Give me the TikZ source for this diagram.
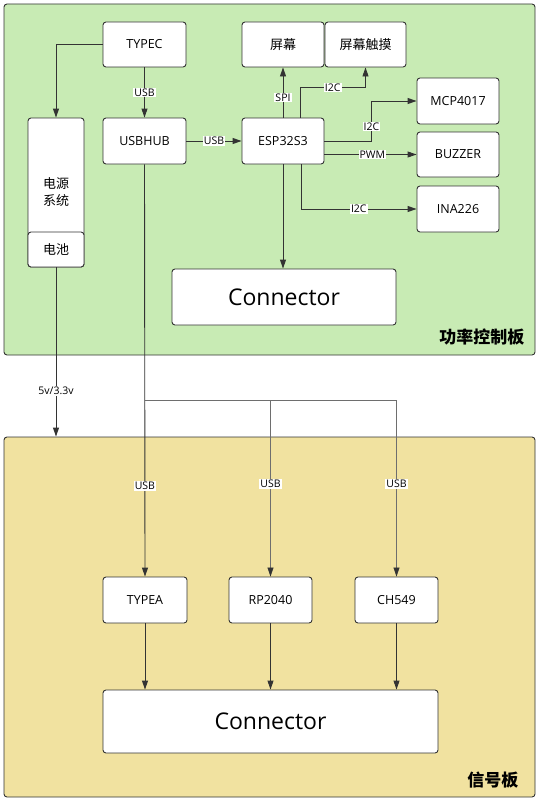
\documentclass[tikz,border=0pt]{standalone}
\usepackage{fontspec}
\setmainfont{Open Sans}
\newfontfamily\cjk{Noto Sans CJK SC}
\usetikzlibrary{arrows.meta}
\definecolor{greenfill}{RGB}{200,235,180}
\definecolor{yellowfill}{RGB}{241,226,160}
\definecolor{edge}{RGB}{51,51,51}
\definecolor{thinedge}{RGB}{110,110,110}
\tikzset{
  panel/.style={draw=edge, line width=0.9pt, rounded corners=3pt, inner sep=0pt},
  box/.style={draw=edge, fill=white, line width=0.9pt, rounded corners=3pt, inner sep=0pt,
              align=center, font=\fontsize{12.5}{15}\selectfont},
  cbox/.style={box, font=\cjk\fontsize{13}{17}\selectfont},
  bigbox/.style={box, font=\fontsize{23}{26}\selectfont},
  arr/.style={draw=edge, line width=0.9pt, -{Triangle[length=9pt,width=6pt]}},
  thinline/.style={draw=thinedge, line width=0.6pt},
  thinarr/.style={thinline, -{Triangle[length=9pt,width=6pt,color=edge]}},
  lbl/.style={fill=white, inner sep=1pt, font=\fontsize{10.5}{12}\selectfont},
  plabel/.style={font=\cjk\bfseries\fontsize{17}{20}\selectfont, anchor=east}
}
\begin{document}
\begin{tikzpicture}[x=1pt,y=-1pt]
\useasboundingbox (0,0) rectangle (540,800);
% panels
\node[panel, fill=greenfill, minimum width=531pt, minimum height=351pt] (green) at (269.5,179.5) {};
\node[panel, fill=yellowfill, minimum width=531pt, minimum height=360pt] (yellow) at (269.5,617) {};
\node[plabel] (glabel) at (528,337) {功率控制板};
\node[plabel] (ylabel) at (522,780) {信号板};
% boxes top
\node[box, minimum width=83pt, minimum height=45pt] (typec) at (144.5,44.5) {TYPEC};
\node[box, minimum width=83pt, minimum height=46pt] (usbhub) at (144.5,141) {USBHUB};
\node[cbox, minimum width=56pt, minimum height=149pt] (psys) at (56,192.5) {电源\\系统};
\node[cbox, minimum width=56pt, minimum height=35pt] (batt) at (56,249.5) {电池};
\node[box, minimum width=82pt, minimum height=46pt] (esp) at (283,141) {ESP32S3};
\node[cbox, minimum width=82pt, minimum height=45pt] (scr) at (283,44.5) {屏幕};
\node[cbox, minimum width=81pt, minimum height=45pt] (touch) at (365.5,44.5) {屏幕触摸};
\node[box, minimum width=82pt, minimum height=46pt] (mcp) at (458,101) {MCP4017};
\node[box, minimum width=82pt, minimum height=45pt] (buz) at (458,154.5) {BUZZER};
\node[box, minimum width=82pt, minimum height=46pt] (ina) at (458,209) {INA226};
\node[bigbox, minimum width=224pt, minimum height=56pt] (conn1) at (284,297) {Connector};
% boxes bottom
\node[box, minimum width=84pt, minimum height=46pt] (typea) at (145,600) {TYPEA};
\node[box, minimum width=83pt, minimum height=46pt] (rp) at (270.5,600) {RP2040};
\node[box, minimum width=83pt, minimum height=46pt] (ch) at (396.5,600) {CH549};
\node[bigbox, minimum width=335pt, minimum height=63pt] (conn2) at (270.5,721.5) {Connector};
% top connectors
\draw[arr] (typec.west) -| (psys.north);
\draw[arr] (typec.south) -- node[lbl]{USB} (usbhub.north);
\draw[arr] (usbhub.east) -- node[lbl]{USB} (esp.west);
\draw[arr] (esp.north) -- node[lbl, pos=0.4]{SPI} (scr.south);
\draw[arr] ([xshift=17pt]esp.north) -- ++(0,-30) -| node[lbl, pos=0.25]{I2C} (touch.south);
\draw[arr] (esp.east) -- ++(47,0) |- node[lbl, pos=0.18]{I2C} (mcp.west);
\draw[arr] (esp.east |- buz.west) -- node[lbl, pos=0.52]{PWM} (buz.west);
\draw[arr] ([xshift=18pt]esp.south) |- node[lbl, pos=0.75]{I2C} (ina.west);
\draw[arr] (esp.south) -- (esp.south |- conn1.north);
% power
\draw[arr] (batt.south) -- node[lbl, pos=0.73]{5v/3.3v} (batt.south |- yellow.north);
% USB bus
\coordinate (j1) at (145,400);
\coordinate (j2) at (rp.north |- j1);
\coordinate (j3) at (ch.north |- j1);
\draw[arr] (usbhub.south) -- node[lbl, pos=0.78]{USB} (typea.north);
\draw[thinline] (j1) -- (j3);
\draw[thinarr] (j2) -- node[lbl, pos=0.475]{USB} (rp.north);
\draw[thinarr] (j3) -- node[lbl, pos=0.475]{USB} (ch.north);
% bottom
\draw[arr] (typea.south) -- (typea.south |- conn2.north);
\draw[arr] (rp.south) -- (rp.south |- conn2.north);
\draw[arr] (ch.south) -- (ch.south |- conn2.north);
\end{tikzpicture}
\end{document}
